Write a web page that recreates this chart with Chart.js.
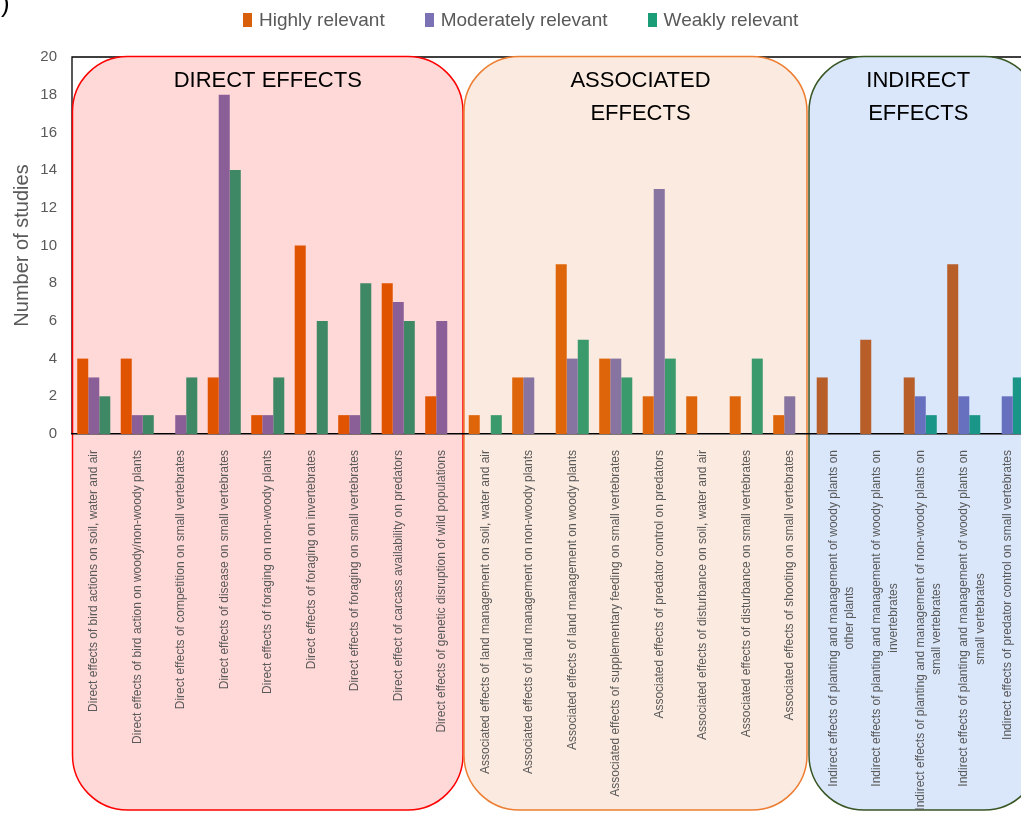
<!DOCTYPE html>
<html>
<head>
<meta charset="utf-8">
<script src="https://cdn.jsdelivr.net/npm/chart.js@4.4.1/dist/chart.umd.min.js"></script>
<style>
html, body { margin: 0; padding: 0; overflow: hidden; background: #fff; }
#wrap { position: relative; width: 1040px; height: 819px; }
#legend { position: absolute; top: 9px; left: 243px; display: flex; font-family: "Liberation Sans", Arial, sans-serif; font-size: 19px; color: #595959; }
#legend .item { display: flex; align-items: center; margin-right: 40px; }
#legend .sw { width: 9px; height: 14px; margin-right: 7px; }
#corner { position: absolute; left: 1px; top: -12px; font: 26px "Liberation Sans", Arial, sans-serif; color: #000; }
</style>
</head>
<body>
<div id="wrap">
  <canvas id="chart" width="1040" height="819"></canvas>
  <div id="legend"></div>
  <div id="corner">)</div>
</div>
<script>
// categories, one list per group
var directLabels = [
    'Direct effects of bird actions on soil, water and air',
    'Direct effects of bird action on woody/non-woody plants',
    'Direct effects of competition on small vertebrates',
    'Direct effects of disease on small vertebrates',
    'Direct effects of foraging on non-woody plants',
    'Direct effects of foraging on invertebrates',
    'Direct effects of foraging on small vertebrates',
    'Direct effect of carcass availability on predators',
    'Direct effects of genetic disruption of wild populations'
];
var associatedLabels = [
    'Associated effects of land management on soil, water and air',
    'Associated effects of land management on non-woody plants',
    'Associated effects of land management on woody plants',
    'Associated effects of supplementary feeding on small vertebrates',
    'Associated effects of predator control on predators',
    'Associated effects of disturbance on soil, water and air',
    'Associated effects of disturbance on small vertebrates',
    'Associated effects of shooting on small vertebrates'
];
var indirectLabels = [
    ['Indirect effects of planting and management of woody plants on', 'other plants'],
    ['Indirect effects of planting and management of woody plants on', 'invertebrates'],
    ['Indirect effects of planting and management of non-woody plants on', 'small vertebrates'],
    ['Indirect effects of planting and management of woody plants on', 'small vertebrates'],
    'Indirect effects of predator control on small vertebrates'
];
var categories = directLabels.concat(associatedLabels, indirectLabels);

var seriesNames = ['Highly relevant', 'Moderately relevant', 'Weakly relevant'];
var highly     = [4, 4, 0, 3, 1, 10, 1, 8, 2,   1, 3, 9, 4, 2, 2, 2, 1,   3, 5, 3, 9, 0];
var moderately = [3, 1, 1, 18, 1, 0, 1, 7, 6,   0, 3, 4, 4, 13, 0, 0, 2,  0, 0, 2, 2, 2];
var weakly     = [2, 1, 3, 14, 3, 6, 8, 6, 0,   1, 0, 5, 3, 4, 0, 4, 0,   0, 0, 1, 1, 3];

var groupTitles = [['DIRECT EFFECTS'], ['ASSOCIATED', 'EFFECTS'], ['INDIRECT', 'EFFECTS']];
var groupSizes = [directLabels.length, associatedLabels.length, indirectLabels.length];

var legendColors = ['#D9600A', '#7B71B5', '#1B9E77'];
// bars look tinted by the box behind them
var groupBarColors = [
    ['#E05300', '#8A5F97', '#3E8866'],
    ['#DE6509', '#8874A0', '#3A9A6C'],
    ['#B75E29', '#6670BF', '#1A9688']
];
var boxFill = ['#FFD8D8', '#FBEADF', '#DAE6FA'];
var boxLine = ['#FF0000', '#ED7D31', '#375623'];

var tickFont = '12px "Liberation Sans", Arial, sans-serif';

function groupOf(i) {
    var n = 0;
    for (var g = 0; g < groupSizes.length; g++) {
        n += groupSizes[g];
        if (i < n) return g;
    }
    return groupSizes.length - 1;
}

function barColors(series) {
    return categories.map(function (c, i) { return groupBarColors[groupOf(i)][series]; });
}

// second line of a wrapped label is centred under the first one
var measureCtx = document.createElement('canvas').getContext('2d');
measureCtx.font = tickFont;
function centreLines(label) {
    if (!Array.isArray(label)) return label;
    var w0 = measureCtx.measureText(label[0]).width;
    var sp = measureCtx.measureText(' ').width;
    return label.map(function (line, k) {
        if (k === 0) return line;
        var n = Math.round((w0 - measureCtx.measureText(line).width) / 2 / sp);
        return line + ' '.repeat(Math.max(n, 0));
    });
}

// legend in html
var legendEl = document.getElementById('legend');
seriesNames.forEach(function (name, i) {
    var item = document.createElement('div');
    item.className = 'item';
    item.innerHTML = '<span class="sw" style="background:' + legendColors[i] + '"></span>' + name;
    legendEl.appendChild(item);
});

function roundBox(ctx, x, y, w, h, r) {
    ctx.beginPath();
    ctx.moveTo(x + r, y);
    ctx.arcTo(x + w, y, x + w, y + h, r);
    ctx.arcTo(x + w, y + h, x, y + h, r);
    ctx.arcTo(x, y + h, x, y, r);
    ctx.arcTo(x, y, x + w, y, r);
    ctx.closePath();
}

var boxPlugin = {
    id: 'effectBoxes',
    beforeDraw: function (chart) {
        var ctx = chart.ctx;
        var area = chart.chartArea;
        var xs = chart.scales.x;
        var pitch = xs.getPixelForValue(1) - xs.getPixelForValue(0);

        ctx.save();
        // plot frame
        ctx.strokeStyle = '#000';
        ctx.lineWidth = 1.3;
        ctx.beginPath();
        ctx.moveTo(area.left, area.bottom);
        ctx.lineTo(area.left, area.top);
        ctx.lineTo(chart.width, area.top);
        ctx.stroke();

        var start = 0;
        var edges = [];
        groupSizes.forEach(function (n, g) {
            var left = area.left + start * pitch;
            var right = area.left + (start + n) * pitch;
            if (g === 1) right -= 4;
            if (g === 2) { left -= 3; right = chart.width; }
            edges.push([left, right]);
            start += n;
        });

        var top = area.top - 0.5;
        var bottom = 810;
        edges.forEach(function (e, g) {
            roundBox(ctx, e[0] + 0.5, top, e[1] - e[0] - 1, bottom - top, 55);
            ctx.fillStyle = boxFill[g];
            ctx.fill();
            ctx.strokeStyle = boxLine[g];
            ctx.lineWidth = 1.5;
            ctx.stroke();
        });

        ctx.fillStyle = '#000';
        ctx.font = '22px "Liberation Sans", Arial, sans-serif';
        ctx.textAlign = 'center';
        ctx.textBaseline = 'middle';
        edges.forEach(function (e, g) {
            var cx = (e[0] + e[1]) / 2;
            if (g === 1) cx += 5;
            if (g === 2) cx -= 6;
            groupTitles[g].forEach(function (line, k) {
                ctx.fillText(line, cx, 81 + k * 33);
            });
        });
        ctx.restore();
    }
};

var ctx = document.getElementById('chart').getContext('2d');
var chart = new Chart(ctx, {
    type: 'bar',
    data: {
        labels: categories,
        datasets: [
            { label: seriesNames[0], data: highly, backgroundColor: barColors(0) },
            { label: seriesNames[1], data: moderately, backgroundColor: barColors(1) },
            { label: seriesNames[2], data: weakly, backgroundColor: barColors(2) }
        ]
    },
    options: {
        responsive: false,
        animation: false,
        layout: { padding: { top: 57, right: 11, bottom: 0, left: 0 } },
        datasets: { bar: { categoryPercentage: 0.76, barPercentage: 1 } },
        plugins: { legend: { display: false }, tooltip: { enabled: false } },
        scales: {
            x: {
                grid: { display: false },
                border: { display: true, color: '#000', width: 1.5 },
                ticks: {
                    autoSkip: false,
                    maxRotation: 90,
                    minRotation: 90,
                    padding: 8,
                    color: '#595959',
                    font: { family: '"Liberation Sans", Arial, sans-serif', size: 12, lineHeight: 1.4 },
                    callback: function (value, index) { return centreLines(categories[index]); }
                },
                afterFit: function (scale) { scale.height = 819 - 434; }
            },
            y: {
                min: 0,
                max: 20,
                grid: { display: false },
                border: { display: false },
                ticks: {
                    stepSize: 2,
                    padding: 7,
                    color: '#595959',
                    font: { family: '"Liberation Sans", Arial, sans-serif', size: 15 }
                },
                title: {
                    display: true,
                    text: 'Number of studies',
                    color: '#595959',
                    padding: { top: 10, bottom: 0 },
                    font: { family: '"Liberation Sans", Arial, sans-serif', size: 20 }
                },
                afterFit: function (scale) { scale.width = 72; }
            }
        }
    },
    plugins: [boxPlugin]
});
</script>
</body>
</html>
